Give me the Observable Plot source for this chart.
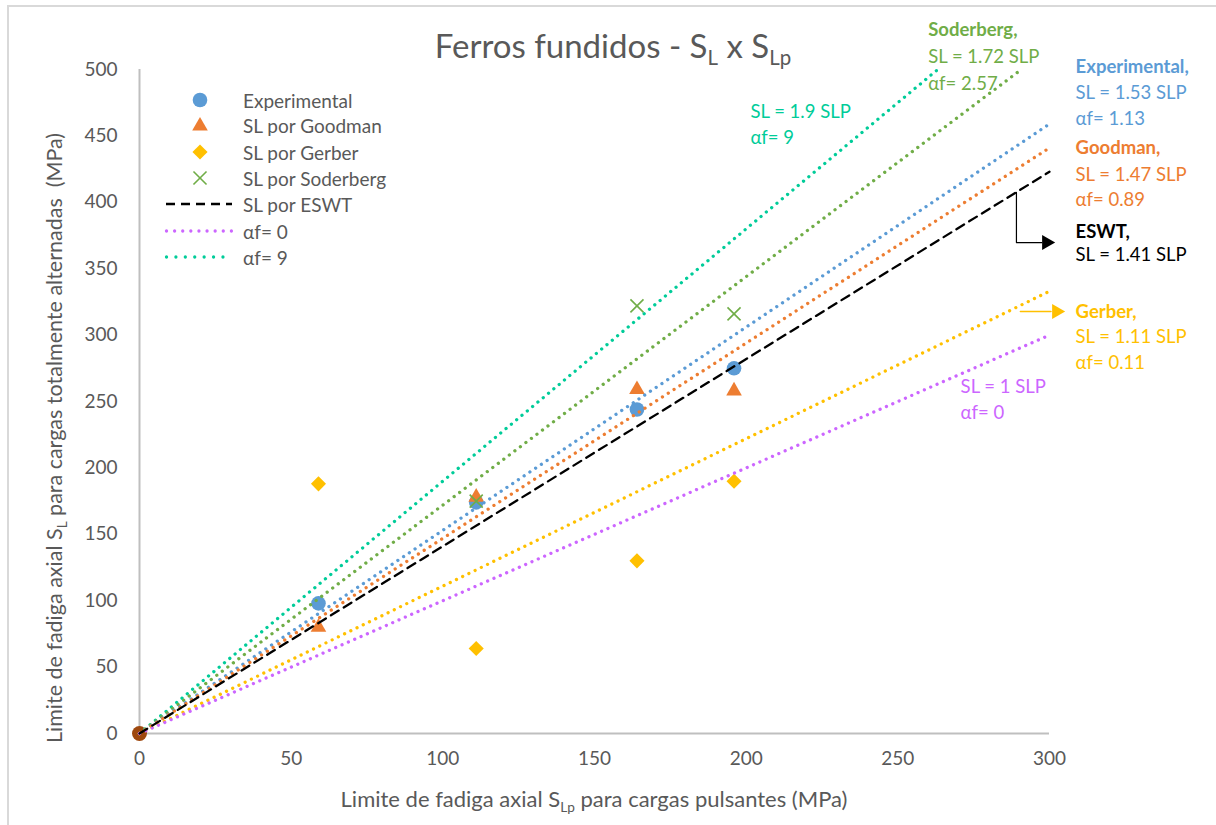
<!DOCTYPE html>
<html><head><meta charset="utf-8">
<script src="https://cdn.jsdelivr.net/npm/d3@7"></script>
<script src="https://cdn.jsdelivr.net/npm/@observablehq/plot@0.6"></script>
<style>
body{margin:0;background:#fff;overflow:hidden;font-family:Lato,"Open Sans",sans-serif;}
#wrap{position:relative;width:1216px;height:825px;overflow:hidden;background:#fff}
#frame{position:absolute;left:7px;top:5px;width:1300px;height:900px;border:2px solid #d9d9d9;box-sizing:border-box}
#chart{position:absolute;left:0;top:0}
.title{position:absolute;left:0;width:1226px;top:29px;text-align:center;font-size:33px;color:#595959;line-height:1}
.sub{font-size:0.62em;position:relative;top:0.35em}
.xlab{position:absolute;left:0;width:1188px;top:788px;text-align:center;font-size:22px;color:#595959;line-height:1}
.leg{position:absolute;left:160px;height:26px;font-size:19px;color:#595959;display:flex;align-items:center}
.leg svg{width:80px;height:26px}
</style></head>
<body><div id="wrap"><div id="frame"></div><div id="chart"></div>
<div class="title">Ferros fundidos - S<span class="sub">L</span> x S<span class="sub">Lp</span></div>
<div class="xlab">Limite de fadiga axial S<span class="sub">Lp</span> para cargas pulsantes (MPa)</div>
<div id="legend"></div>
</div>
<script>
// ---- data ----
const xTicks = [0, 50, 100, 150, 200, 250, 300];
const yTicks = [0, 50, 100, 150, 200, 250, 300, 350, 400, 450, 500];

const expX = [59, 111, 164, 196];
const expY = [98, 174, 244, 275];
const goodX = [59, 111, 164, 196];
const goodY = [80, 178, 259, 258];
const gerbX = [59, 111, 164, 196];
const gerbY = [188, 64, 130, 190];
const sodX = [111, 164, 196];
const sodY = [175, 322, 316];
const originX = [0];
const originY = [0];

// trend lines SL = k * SLp
const trendNames = ["αf= 9", "Soderberg", "Experimental", "Goodman", "Gerber", "αf= 0"];
const trendSlopes = [1.9, 1.72, 1.53, 1.47, 1.11, 1.0];
const trendXEnd = [263, 291, 300, 300, 300, 300];
const eswtSlope = 1.41;
const eswtXEnd = 300;

const legendNames = ["Experimental", "SL por Goodman", "SL por Gerber", "SL por Soderberg", "SL por ESWT", "αf= 0", "αf= 9"];

// ---- styles ----
const C = {
  exp: "#5B9BD5", good: "#ED7D31", gerb: "#FFC000", sod: "#70AD47",
  eswt: "#000000", a0: "#CC66FF", a9: "#00CC99", origin: "#9E480E"
};
const trendColors = [C.a9, C.sod, C.exp, C.good, C.gerb, C.a0];

const pts = (xs, ys) => xs.map((x, i) => ({x, y: ys[i]}));
const trendSegs = trendNames.flatMap((n, i) => [
  {name: n, x: 0, y: 0, c: trendColors[i]},
  {name: n, x: trendXEnd[i], y: trendSlopes[i] * trendXEnd[i], c: trendColors[i]}
]);
const eswtSeg = [{x: 0, y: 0}, {x: eswtXEnd, y: eswtSlope * eswtXEnd}];

// annotation lines (position in data units)
const ann = [
  {x: 260, y: 529.4, t: "Soderberg,", c: C.sod, b: true},
  {x: 260, y: 509.0, t: "SL = 1.72 SLP", c: C.sod},
  {x: 260, y: 488.7, t: "αf= 2.57", c: C.sod},
  {x: 201.4, y: 467.6, t: "SL = 1.9 SLP", c: C.a9},
  {x: 201.4, y: 448.0, t: "αf= 9", c: C.a9},
  {x: 308.6, y: 501.5, t: "Experimental,", c: C.exp, b: true},
  {x: 308.6, y: 482.0, t: "SL = 1.53 SLP", c: C.exp},
  {x: 308.6, y: 463.0, t: "αf= 1.13", c: C.exp},
  {x: 308.6, y: 440.5, t: "Goodman,", c: C.good, b: true},
  {x: 308.6, y: 420.2, t: "SL = 1.47 SLP", c: C.good},
  {x: 308.6, y: 401.4, t: "αf= 0.89", c: C.good},
  {x: 308.6, y: 377.3, t: "ESWT,", c: "#000000", b: true},
  {x: 308.6, y: 359.9, t: "SL = 1.41 SLP", c: "#000000"},
  {x: 308.6, y: 317.0, t: "Gerber,", c: C.gerb, b: true},
  {x: 308.6, y: 298.2, t: "SL = 1.11 SLP", c: C.gerb},
  {x: 308.6, y: 278.6, t: "αf= 0.11", c: C.gerb},
  {x: 270.7, y: 260.5, t: "SL = 1 SLP", c: C.a0},
  {x: 270.7, y: 241.0, t: "αf= 0", c: C.a0}
];
const eswtArrow = [{x: 289.1, y: 407.5}, {x: 289.1, y: 369.7}, {x: 297.5, y: 369.7}];
const eswtHead = [{x: 299.0, y: 369.7}];
const gerbArrow = [{x: 290.4, y: 317.8}, {x: 300.5, y: 317.8}];
const gerbHead = [{x: 302.3, y: 317.8}];

const dotted = {strokeWidth: 3.3, strokeDasharray: "0.01 6.9", strokeLinecap: "round"};

const plot = Plot.plot({
  width: 1216, height: 825,
  marginLeft: 139, marginRight: 167, marginTop: 69, marginBottom: 92,
  style: {color: "#595959", fontSize: "19px", fontFamily: "Lato, 'Open Sans', sans-serif", background: "transparent", overflow: "visible"},
  x: {domain: [0, 300]},
  y: {domain: [0, 500]},
  color: {type: "identity"},
  marks: [
    Plot.axisX({ticks: xTicks, tickSize: 0, tickPadding: 18, label: null, fontSize: 19}),
    Plot.axisY({ticks: yTicks, tickSize: 0, tickPadding: 22, label: null, fontSize: 19}),
    Plot.ruleX([0], {stroke: "#bfbfbf", strokeWidth: 2}),
    Plot.ruleY([0], {stroke: "#bfbfbf", strokeWidth: 2}),
    Plot.dot(pts(originX, originY), {x: "x", y: "y", r: 7.5, fill: C.origin, stroke: "none"}),
    Plot.dot(pts(expX, expY), {x: "x", y: "y", r: 7.3, fill: C.exp, stroke: "none"}),
    Plot.dot(pts(goodX, goodY), {x: "x", y: "y", symbol: "triangle", r: 5.8, fill: C.good, stroke: "none"}),
    Plot.dot(pts(gerbX, gerbY), {x: "x", y: "y", symbol: "diamond2", r: 6.8, fill: C.gerb, stroke: "none"}),
    Plot.dot(pts(sodX, sodY), {x: "x", y: "y", symbol: "times", r: 6, stroke: C.sod, strokeWidth: 1.6}),
    Plot.line(trendSegs, {x: "x", y: "y", z: "name", stroke: "c", ...dotted}),
    Plot.line(eswtSeg, {x: "x", y: "y", stroke: C.eswt, strokeWidth: 2.3, strokeDasharray: "9 6"}),
    Plot.line(eswtArrow, {x: "x", y: "y", stroke: "#000", strokeWidth: 1.2}),
    Plot.dot(eswtHead, {x: "x", y: "y", symbol: "triangle", r: 5.6, rotate: 90, fill: "#000", stroke: "none"}),
    Plot.line(gerbArrow, {x: "x", y: "y", stroke: C.gerb, strokeWidth: 1.5}),
    Plot.dot(gerbHead, {x: "x", y: "y", symbol: "triangle", r: 5.6, rotate: 90, fill: C.gerb, stroke: "none"}),
    Plot.text(ann.filter(d => d.b), {x: "x", y: "y", text: "t", fill: "c", textAnchor: "start", fontSize: 18.5, fontWeight: "bold"}),
    Plot.text(ann.filter(d => !d.b), {x: "x", y: "y", text: "t", fill: "c", textAnchor: "start", fontSize: 18.5})
  ]
});
document.getElementById("chart").appendChild(plot);

// rotated y-axis title with subscript
const yl = d3.select(plot).append("text")
  .attr("transform", "translate(62,438) rotate(-90)")
  .attr("text-anchor", "middle")
  .attr("fill", "#595959")
  .attr("font-size", 21.5);
yl.append("tspan").text("Limite de fadiga axial S");
yl.append("tspan").attr("font-size", 13.5).attr("dy", 5).text("L");
yl.append("tspan").attr("dy", -5).text(" para cargas totalmente alternadas\u00a0 (MPa)");

// legend
const legTops = [100, 125.5, 152, 178, 204, 231, 257];
const legSwatch = [
  `<circle cx="40" cy="13" r="7.3" fill="${C.exp}"/>`,
  `<path d="${d3.symbol(d3.symbolTriangle, Math.PI*5.8*5.8)()}" transform="translate(40,13)" fill="${C.good}"/>`,
  `<path d="${d3.symbol(d3.symbolDiamond2, Math.PI*6.8*6.8)()}" transform="translate(40,13)" fill="${C.gerb}"/>`,
  `<path d="${d3.symbol(d3.symbolTimes, Math.PI*6*6)()}" transform="translate(40,13)" stroke="${C.sod}" stroke-width="1.6" fill="none"/>`,
  `<line x1="6" x2="72" y1="13" y2="13" stroke="#000" stroke-width="2.3" stroke-dasharray="9 6"/>`,
  `<line x1="6.5" x2="72" y1="13" y2="13" stroke="${C.a0}" stroke-width="3.3" stroke-dasharray="0.01 8.1" stroke-linecap="round"/>`,
  `<line x1="6.5" x2="72" y1="13" y2="13" stroke="${C.a9}" stroke-width="3.3" stroke-dasharray="0.01 9.4" stroke-linecap="round"/>`
];
const leg = document.getElementById("legend");
legendNames.forEach((n, i) => {
  const d = document.createElement("div");
  d.className = "leg";
  d.style.top = (legTops[i] - 13) + "px";
  d.innerHTML = `<svg viewBox="0 0 80 26">${legSwatch[i]}</svg><span style="margin-left:3px">${n}</span>`;
  leg.appendChild(d);
});
</script>
</body></html>
